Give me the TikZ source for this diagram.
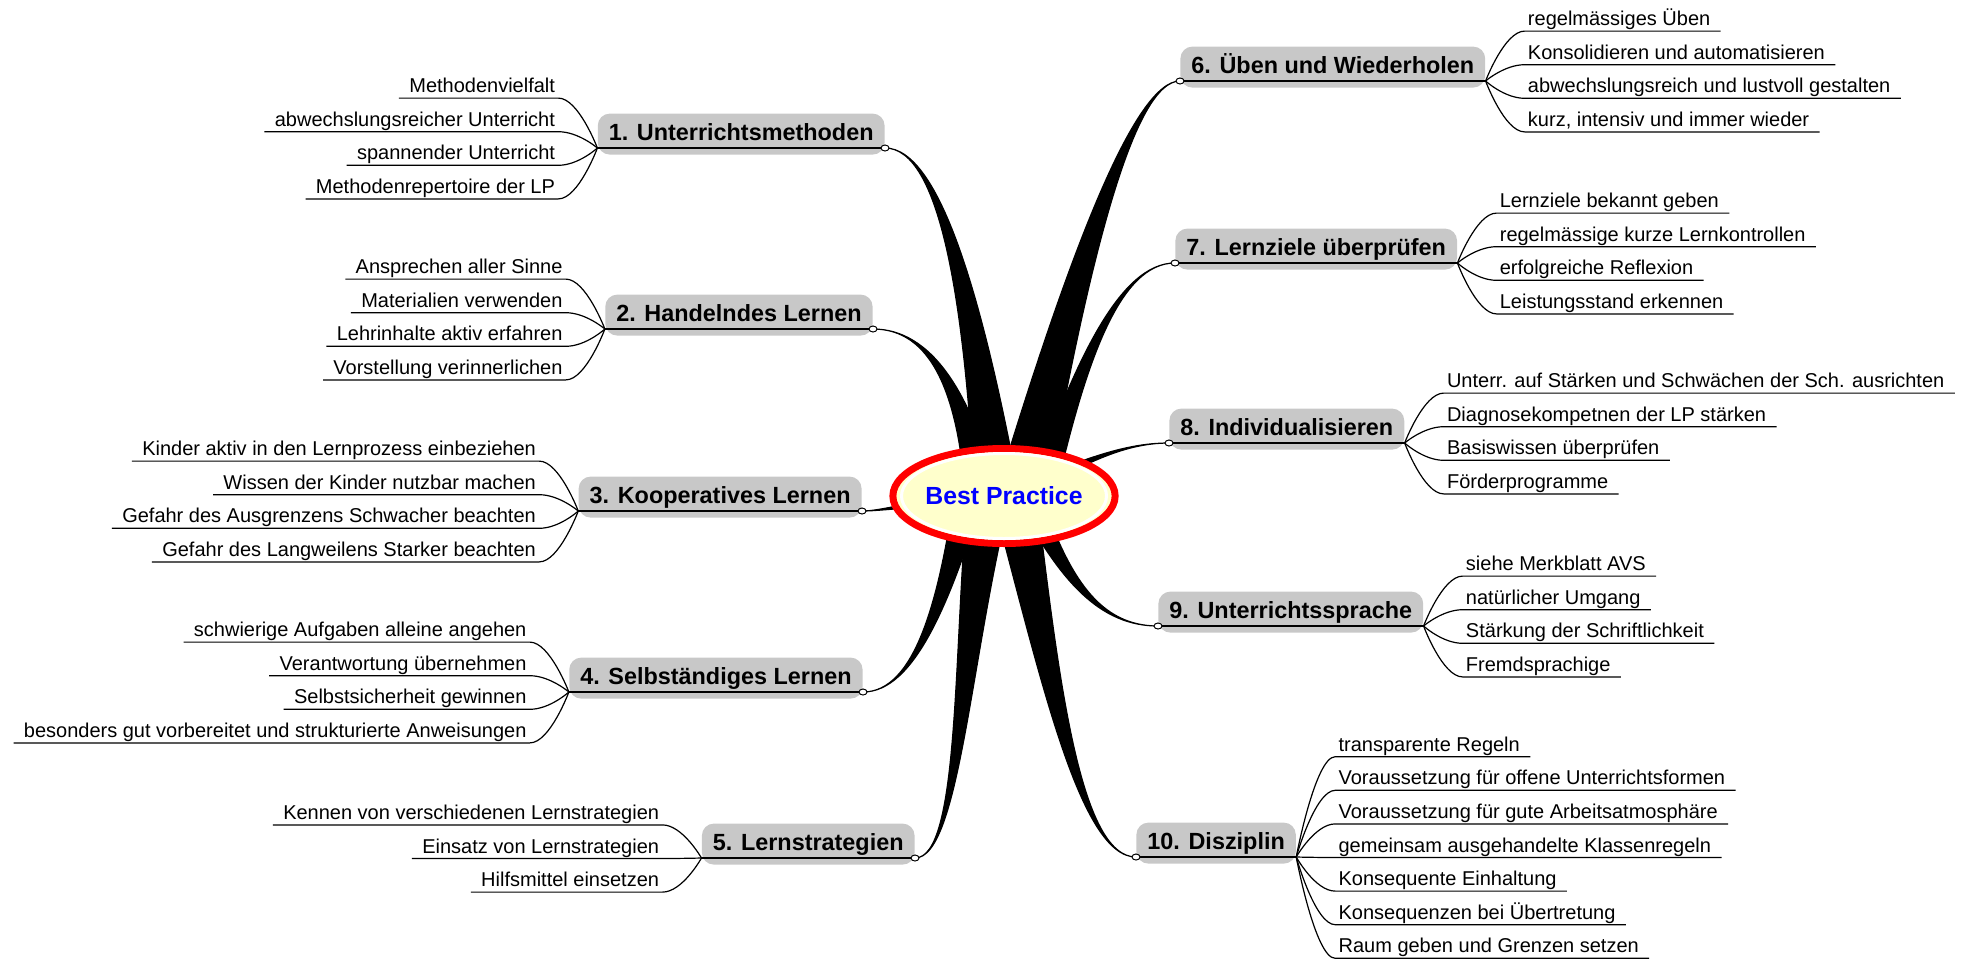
\documentclass[tikz,border=0pt]{standalone}
\usepackage{fontspec}
\setmainfont{Liberation Sans}
\usetikzlibrary{calc,shapes.geometric}
\definecolor{topicgray}{RGB}{200,200,200}
\definecolor{hubyellow}{RGB}{255,255,204}
\tikzset{
  hub/.style={ellipse, fill=hubyellow, draw=red, line width=3.5pt,
    minimum width=107.5pt, minimum height=47.5pt, inner sep=0pt,
    text=blue, font=\bfseries\fontsize{12.4pt}{15pt}\selectfont},
  topic/.style={fill=topicgray, rounded corners=6pt, inner xsep=5.5pt,
    inner ysep=0pt, text height=13.35pt, text depth=7.15pt,
    font=\bfseries\fontsize{11.7pt}{14pt}\selectfont},
  bar/.style={line width=0.9pt},
  knob/.style={ellipse, draw, fill=white, line width=0.5pt,
    minimum width=4pt, minimum height=3pt, inner sep=0pt},
  leaf/.style={inner xsep=1.5pt, inner ysep=0pt, text height=8pt,
    text depth=2.5pt, font=\fontsize{10pt}{12pt}\selectfont},
  twig/.style={line width=0.6pt},
  wedge/.style={fill=black, draw=black, line width=0.6pt, line join=round}
}
% main topic: name, anchor, position, text
\newcommand{\topicnode}[4]{%
  \node[topic, anchor=#2] (#1) at (#3) {#4};
  \coordinate (#1w) at ([yshift=3.5pt]#1.south west);
  \coordinate (#1e) at ([yshift=3.5pt]#1.south east);
  \draw[bar] (#1w) -- (#1e);
}
% tapered branch: topic anchor, control 1, control 2, base offset, half width
\newcommand{\wedgeto}[5]{%
  \filldraw[wedge] (#1) .. controls (#2) and ($(#3)-0.4*(#5)$) .. ($(hubc)+(#4)-(#5)$)
    -- ($(hubc)+(#4)+(#5)$) .. controls ($(#3)+0.4*(#5)$) and (#2) .. (#1);
}
% subtopics: topic, middle index, texts
\newcommand{\leftleaves}[3]{%
  \foreach \txt [count=\i] in {#3} {
    \node[leaf, anchor=south east] (#1l\i) at ($(#1w)+(-39,{(\i-#2)*33.6+0.5})$) {\txt};
    \draw[twig] ([xshift=-3.5pt]#1l\i.south west) -- (#1l\i.south east)
      .. controls +(20,0) and +(0,0) .. (#1w);
  }
}
\newcommand{\rightleaves}[3]{%
  \foreach \txt [count=\i] in {#3} {
    \node[leaf, anchor=south west] (#1l\i) at ($(#1e)+(39,{(\i-#2)*33.6+0.5})$) {\txt};
    \draw[twig] (#1e) .. controls +(0,0) and +(-20,0) .. (#1l\i.south west)
      -- ([xshift=3.5pt]#1l\i.south east);
  }
}

\begin{document}
\begin{tikzpicture}[x=0.5pt, y=-0.5pt]
  \useasboundingbox (0,0) rectangle (1968,958);
  \coordinate (hubc) at (1004,496);

  % main topics, left
  \topicnode{t1}{south east}{885,155}{1. Unterrichtsmethoden}
  \topicnode{t2}{south east}{873,336}{2. Handelndes Lernen}
  \topicnode{t3}{south east}{862,518}{3. Kooperatives Lernen}
  \topicnode{t4}{south east}{863,699}{4. Selbständiges Lernen}
  \topicnode{t5}{south east}{915,865}{5. Lernstrategien}
  % main topics, right
  \topicnode{t6}{south west}{1180,88}{6. Üben und Wiederholen}
  \topicnode{t7}{south west}{1175,270}{7. Lernziele überprüfen}
  \topicnode{t8}{south west}{1169,450}{8. Individualisieren}
  \topicnode{t9}{south west}{1158,633}{9. Unterrichtssprache}
  \topicnode{t10}{south west}{1136,864}{10. Disziplin}

  % tapered branches into the hub
  \wedgeto{t1e}{940,148}{975,300}{-4,24}{24,0}
  \wedgeto{t2e}{930,329}{968,390}{-19,24}{18,0}
  \wedgeto{t3e}{880,511}{905,505}{-44,4}{0,5}
  \wedgeto{t4e}{915,692}{945,600}{-34,-6}{15,0}
  \wedgeto{t5e}{960,858}{962,650}{-14,-6}{22,0}
  \wedgeto{t6w}{1135,81}{1080,250}{16,4}{26,0}
  \wedgeto{t7w}{1120,263}{1080,360}{36,4}{14,0}
  \wedgeto{t8w}{1120,443}{1080,465}{16,-6}{2,6}
  \wedgeto{t9w}{1100,626}{1065,580}{26,4}{11,-4}
  \wedgeto{t10w}{1080,857}{1050,680}{11,4}{22,0}

  % central topic
  \node[hub] (bp) at (hubc) {Best Practice};
  \draw[white, line width=1.5pt] (bp.center) ellipse [x radius=51.25pt, y radius=21.25pt];

  % small joints where the branches meet the topics
  \foreach \k in {t1e,t2e,t3e,t4e,t5e,t6w,t7w,t8w,t9w,t10w}
    \node[knob] (k\k) at (\k) {};

  % subtopics
  \leftleaves{t1}{2.5}{Methodenvielfalt, abwechslungsreicher Unterricht,
    spannender Unterricht, Methodenrepertoire der LP}
  \leftleaves{t2}{2.5}{Ansprechen aller Sinne, Materialien verwenden,
    Lehrinhalte aktiv erfahren, Vorstellung verinnerlichen}
  \leftleaves{t3}{2.5}{Kinder aktiv in den Lernprozess einbeziehen,
    Wissen der Kinder nutzbar machen, Gefahr des Ausgrenzens Schwacher beachten,
    Gefahr des Langweilens Starker beachten}
  \leftleaves{t4}{2.5}{schwierige Aufgaben alleine angehen, Verantwortung übernehmen,
    Selbstsicherheit gewinnen, besonders gut vorbereitet und strukturierte Anweisungen}
  \leftleaves{t5}{2}{Kennen von verschiedenen Lernstrategien, Einsatz von Lernstrategien,
    Hilfsmittel einsetzen}
  \rightleaves{t6}{2.5}{regelmässiges Üben, Konsolidieren und automatisieren,
    abwechslungsreich und lustvoll gestalten, {kurz, intensiv und immer wieder}}
  \rightleaves{t7}{2.5}{Lernziele bekannt geben, regelmässige kurze Lernkontrollen,
    erfolgreiche Reflexion, Leistungsstand erkennen}
  \rightleaves{t8}{2.5}{Unterr. auf Stärken und Schwächen der Sch. ausrichten,
    Diagnosekompetnen der LP stärken, Basiswissen überprüfen, Förderprogramme}
  \rightleaves{t9}{2.5}{siehe Merkblatt AVS, natürlicher Umgang,
    Stärkung der Schriftlichkeit, Fremdsprachige}
  \rightleaves{t10}{4}{transparente Regeln, Voraussetzung für offene Unterrichtsformen,
    Voraussetzung für gute Arbeitsatmosphäre, gemeinsam ausgehandelte Klassenregeln,
    Konsequente Einhaltung, Konsequenzen bei Übertretung, Raum geben und Grenzen setzen}
\end{tikzpicture}
\end{document}
